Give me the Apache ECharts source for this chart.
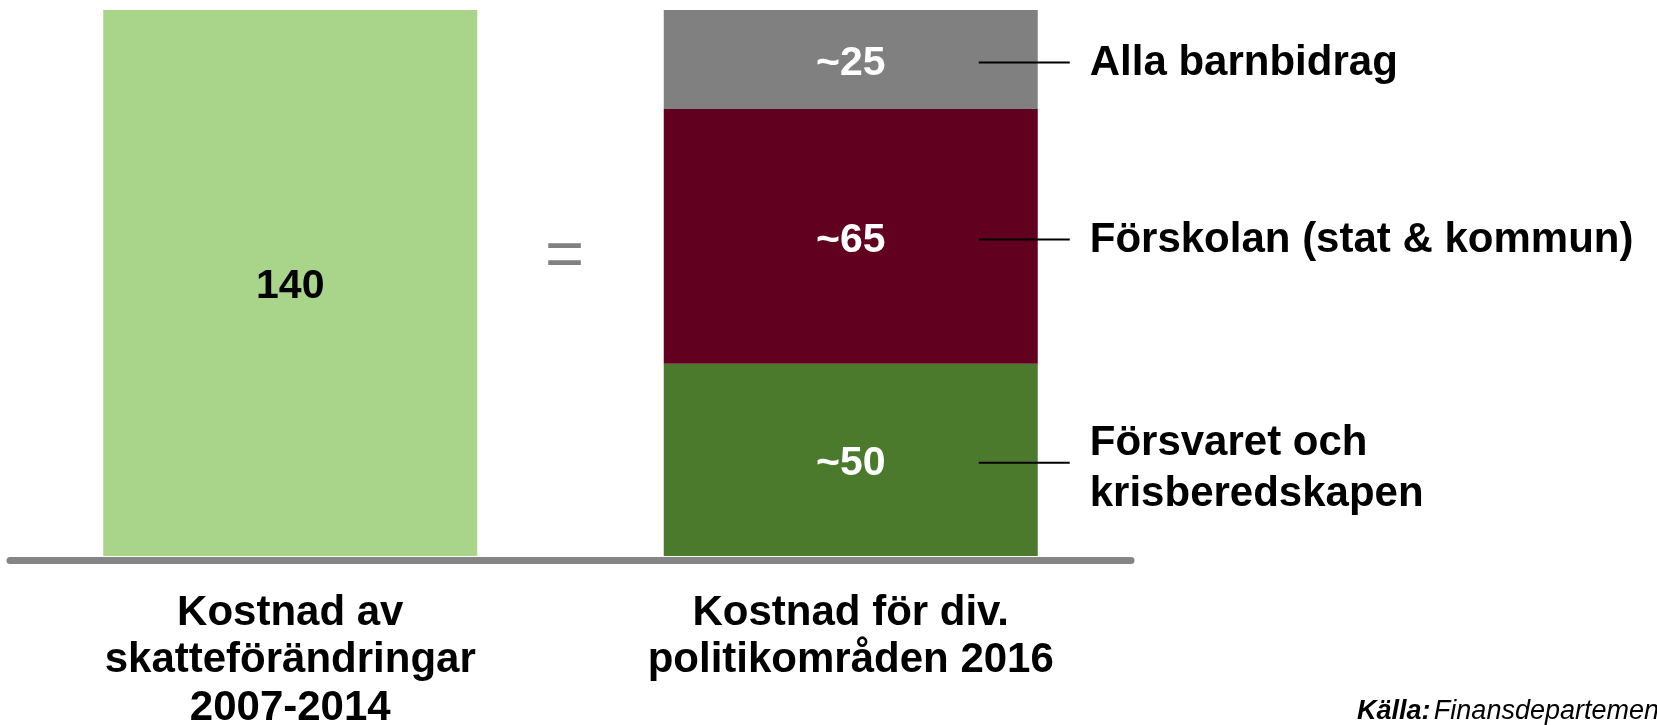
<!DOCTYPE html>
<html>
<head>
<meta charset="utf-8">
<script src="https://cdn.jsdelivr.net/npm/echarts@6/dist/echarts.min.js"></script>
<style>
html,body{margin:0;padding:0;background:#fff;}
#chart{width:1657px;height:725px;}
</style>
</head>
<body>
<div id="chart"></div>
<script>
// ---- data ----
var categories = ['Kostnad av\nskatteförändringar\n2007-2014', 'Kostnad för div.\npolitikområden 2016'];
var totalTax = [140, null];          // Kostnad av skatteförändringar
var forsvaret = [null, 49.3];        // Försvaret och krisberedskapen
var forskolan = [null, 65.3];        // Förskolan (stat & kommun)
var barnbidrag = [null, 25.4];       // Alla barnbidrag
var segmentLabels = ['~50', '~65', '~25'];
var totalLabel = '140';
var segmentNames = ['Försvaret och\nkrisberedskapen', 'Förskolan (stat & kommun)', 'Alla barnbidrag'];
var sourceLabel = 'Källa:';
var sourceText = 'Finansdepartementet';

// annotation anchors (segment midpoints on category 1), derived from the values
var segs = [forsvaret[1], forskolan[1], barnbidrag[1]];
var annot = [];
var acc = 0;
for (var i = 0; i < segs.length; i++) {
  annot.push([1, acc + segs[i] / 2]);
  acc += segs[i];
}

var FONT = '"Liberation Sans", Arial, sans-serif';
var chart = echarts.init(document.getElementById('chart'), null, {renderer: 'canvas'});

function barLabel(color, text) {
  return {
    show: true, position: 'inside', offset: [0, 4],
    color: color, fontFamily: FONT, fontWeight: 'bold', fontSize: 41,
    formatter: function (p) { return p.value == null ? '' : text; }
  };
}

var option = {
  animation: false,
  backgroundColor: '#ffffff',
  grid: {left: 10, right: 526, top: 10, bottom: 169, containLabel: false, outerBoundsMode: 'none'},
  xAxis: {
    type: 'category',
    data: categories,
    offset: 4,
    axisLine: {show: true, onZero: false, lineStyle: {color: '#858585', width: 7}},
    axisTick: {show: false},
    axisLabel: {
      interval: 0, margin: 29.5, color: '#000', fontFamily: FONT,
      fontWeight: 'bold', fontSize: 42, lineHeight: 47.5
    },
    splitLine: {show: false}
  },
  yAxis: {type: 'value', min: 0, max: 140, show: false, splitLine: {show: false}},
  series: [
    {type: 'bar', name: 'Skatteförändringar', stack: 's', barWidth: 374, data: totalTax,
     itemStyle: {color: '#A9D58B'}, label: barLabel('#000', totalLabel)},
    {type: 'bar', name: segmentNames[0], stack: 's', barWidth: 374, data: forsvaret,
     itemStyle: {color: '#4C7A2D'}, label: barLabel('#fff', segmentLabels[0])},
    {type: 'bar', name: segmentNames[1], stack: 's', barWidth: 374, data: forskolan,
     itemStyle: {color: '#620020'}, label: barLabel('#fff', segmentLabels[1])},
    {type: 'bar', name: segmentNames[2], stack: 's', barWidth: 374, data: barnbidrag,
     itemStyle: {color: '#808080'}, label: barLabel('#fff', segmentLabels[2])},
    {type: 'custom', name: 'annotations', z: 10, data: annot,
     renderItem: function (params, api) {
       var p = api.coord([api.value(0), api.value(1)]);
       var y = p[1] + 3;
       var name = segmentNames[params.dataIndex];
       var multi = name.indexOf('\n') >= 0;
       return {
         type: 'group',
         children: [
           {type: 'line', shape: {x1: p[0] + 128, y1: y, x2: p[0] + 219, y2: y},
            style: {stroke: '#000', lineWidth: 2}},
           {type: 'text', x: p[0] + 239, y: y + (multi ? 6 : 1),
            style: {text: name, fill: '#000', font: 'bold 42px ' + FONT,
                    lineHeight: 51, textAlign: 'left', textVerticalAlign: 'middle'}}
         ]
       };
     }}
  ],
  graphic: [
    {type: 'text', left: 545, top: 224,
     style: {text: '=', fill: '#808080', font: '67px ' + FONT}},
    {type: 'text', left: 1357, top: 698,
     style: {text: '{b|' + sourceLabel + '} {i|' + sourceText + '}',
             rich: {
               b: {fontFamily: FONT, fontStyle: 'italic', fontWeight: 'bold', fontSize: 27, fill: '#000', color: '#000'},
               i: {fontFamily: FONT, fontStyle: 'italic', fontSize: 27, fill: '#000', color: '#000'}
             }}}
  ]
};
chart.setOption(option);
</script>
</body>
</html>
